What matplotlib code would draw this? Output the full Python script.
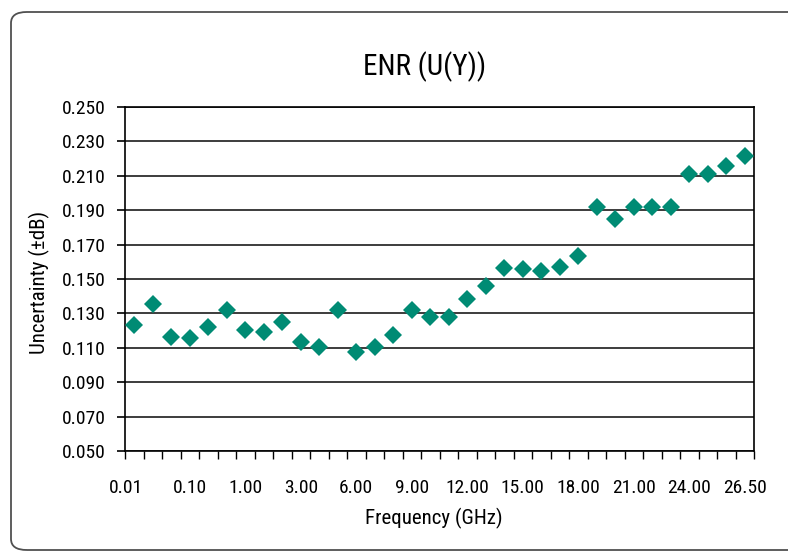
"""ENR (U(Y)) uncertainty vs frequency, category-axis scatter."""

import matplotlib

matplotlib.use("Agg")
import matplotlib.pyplot as plt
import matplotlib.transforms as mtransforms
import numpy as np
from matplotlib.patches import FancyBboxPatch


# uncertainty (±dB) per frequency category
uncertainty = [
    0.1235, 0.1352, 0.1164, 0.1158, 0.1219, 0.1319, 0.1203, 0.1190, 0.1250, 0.1135,
    0.1104, 0.1321, 0.1073, 0.1104, 0.1176, 0.1319, 0.1280, 0.1280, 0.1383, 0.1458,
    0.1566, 0.1556, 0.1546, 0.1570, 0.1633, 0.1920, 0.1850, 0.1920, 0.1920, 0.1920,
    0.2113, 0.2113, 0.2158, 0.2218,
]
tick_labels = ["0.01", "0.10", "1.00", "3.00", "6.00", "9.00",
               "12.00", "15.00", "18.00", "21.00", "24.00", "26.50"]
y_ticks = [0.050, 0.070, 0.090, 0.110, 0.130, 0.150, 0.170, 0.190, 0.210, 0.230, 0.250]

MARKER_COLOR = "#008B74"
FONT = ["Roboto Condensed", "DejaVu Sans"]

plt.rcParams["font.family"] = FONT

W, H, DPI = 788, 553, 100
fig = plt.figure(figsize=(W / DPI, H / DPI), dpi=DPI)

# outer rounded frame (right edge runs off the canvas)
frame = FancyBboxPatch(
    (11 / W, 3 / H), (W + 40) / W, (H - 15) / H,
    boxstyle="round,pad=0,rounding_size=0.02",
    transform=fig.transFigure, fill=False, edgecolor="#505050", linewidth=1.3,
)
fig.patches.append(frame)

ax = fig.add_axes([125 / W, (H - 451) / H, 629 / W, 344 / H])

n = len(uncertainty)
x = np.arange(n)
ax.plot(x, uncertainty, linestyle="none", marker="D", markersize=9.5,
        color=MARKER_COLOR, markeredgewidth=0, zorder=3)

ax.set_xlim(-0.5, n - 0.5)
ax.set_ylim(0.050, 0.250)

# y axis
ax.set_yticks(y_ticks)
ax.set_yticklabels([f"{v:.3f}" for v in y_ticks])
ax.tick_params(axis="y", direction="out", length=6, width=1.2, pad=8, labelsize=14)
ax.grid(axis="y", color="#3c3c3c", linewidth=1.4, zorder=1)
ax.set_axisbelow(True)

# x axis: tick marks on category boundaries, labels every third category
ax.set_xticks(np.arange(-0.5, n, 1.0))
ax.set_xticklabels([])
ax.tick_params(axis="x", which="major", direction="out", length=6, width=1.0)
ax.set_xticks(np.arange(0, n, 3), minor=True)
ax.set_xticklabels(tick_labels, minor=True)
ax.tick_params(axis="x", which="minor", length=0, pad=20, labelsize=14)

# the first label sits a little left of its category, as in the source
first = ax.get_xticklabels(minor=True)[0]
first.set_transform(first.get_transform()
                    + mtransforms.ScaledTranslation(-8.5 / DPI, 0, fig.dpi_scale_trans))

for spine in ax.spines.values():
    spine.set_color("black")
    spine.set_linewidth(1.2)

ax.set_ylabel("Uncertainty (±dB)", fontsize=15)
ax.yaxis.set_label_coords(-0.119, 0.49)
fig.text(434 / W, 1 - 518 / H, "Frequency (GHz)", ha="center", va="center", fontsize=15)
fig.text(425 / W, 1 - 67 / H, "ENR (U(Y))", ha="center", va="center", fontsize=21)

fig.savefig("out.png", dpi=DPI)
plt.close(fig)
